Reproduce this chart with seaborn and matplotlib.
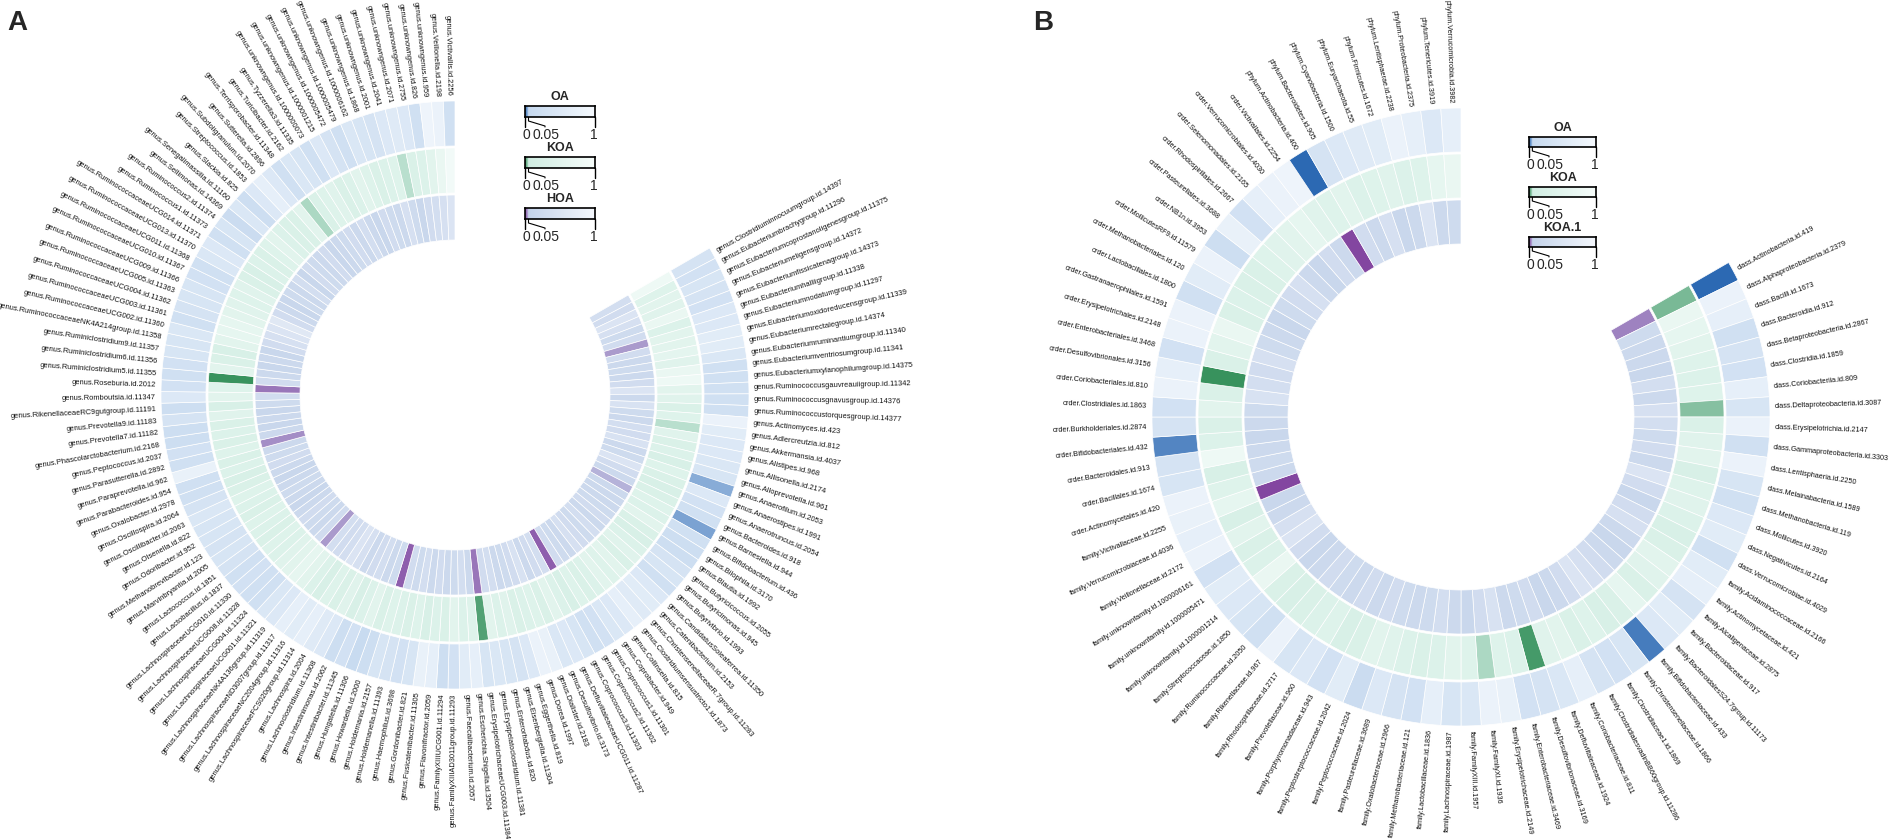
import numpy as np
import matplotlib
matplotlib.use('Agg')
import matplotlib.pyplot as plt
from matplotlib.colors import LinearSegmentedColormap
import seaborn as sns

W, H = 1890, 839

# Panel A: genus level, clockwise from the upper right
labels_a = [
    "genus.Clostridiuminnocuumgroup.id.14397", "genus.Eubacteriumbrachygroup.id.11296",
    "genus.Eubacteriumcoprostanoligenesgroup.id.11375", "genus.Eubacteriumeligensgroup.id.14372",
    "genus.Eubacteriumfissicatenagroup.id.14373", "genus.Eubacteriumhalliigroup.id.11338",
    "genus.Eubacteriumnodatumgroup.id.11297", "genus.Eubacteriumoxidoreducensgroup.id.11339",
    "genus.Eubacteriumrectalegroup.id.14374", "genus.Eubacteriumruminantiumgroup.id.11340",
    "genus.Eubacteriumventriosumgroup.id.11341", "genus.Eubacteriumxylanophilumgroup.id.14375",
    "genus.Ruminococcusgauvreauiigroup.id.11342", "genus.Ruminococcusgnavusgroup.id.14376",
    "genus.Ruminococcustorquesgroup.id.14377", "genus.Actinomyces.id.423",
    "genus.Adlercreutzia.id.812", "genus.Akkermansia.id.4037", "genus.Alistipes.id.968",
    "genus.Allisonella.id.2174", "genus.Alloprevotella.id.961", "genus.Anaerofilum.id.2053",
    "genus.Anaerostipes.id.1991", "genus.Anaerotruncus.id.2054", "genus.Bacteroides.id.918",
    "genus.Barnesiella.id.944", "genus.Bifidobacterium.id.436", "genus.Bilophila.id.3170",
    "genus.Blautia.id.1992", "genus.Butyricicoccus.id.2055", "genus.Butyricimonas.id.945",
    "genus.Butyrivibrio.id.1993", "genus.CandidatusSoleaferrea.id.11350",
    "genus.Catenibacterium.id.2153", "genus.ChristensenellaceaeR.7group.id.11283",
    "genus.Clostridiumsensustricto1.id.1873", "genus.Collinsella.id.815",
    "genus.Coprobacter.id.949", "genus.Coprococcus1.id.11301", "genus.Coprococcus2.id.11302",
    "genus.Coprococcus3.id.11303", "genus.DefluviitaleaceaeUCG011.id.11287",
    "genus.Desulfovibrio.id.3173", "genus.Dialister.id.2183", "genus.Dorea.id.1997",
    "genus.Eggerthella.id.819", "genus.Eisenbergiella.id.11304", "genus.Enterorhabdus.id.820",
    "genus.Erysipelatoclostridium.id.11381", "genus.ErysipelotrichaceaeUCG003.id.11384",
    "genus.Escherichia.Shigella.id.3504", "genus.Faecalibacterium.id.2057",
    "genus.FamilyXIIIAD3011group.id.11293", "genus.FamilyXIIIUCG001.id.11294",
    "genus.Flavonifractor.id.2059", "genus.Fusicatenibacter.id.11305",
    "genus.Gordonibacter.id.821", "genus.Haemophilus.id.3698", "genus.Holdemanella.id.11393",
    "genus.Holdemania.id.2157", "genus.Howardella.id.2000", "genus.Hungatella.id.11306",
    "genus.Intestinibacter.id.11345", "genus.Intestinimonas.id.2062",
    "genus.Lachnoclostridium.id.11308", "genus.Lachnospira.id.2004",
    "genus.LachnospiraceaeFCS020group.id.11314", "genus.LachnospiraceaeNC2004group.id.11316",
    "genus.LachnospiraceaeND3007group.id.11317", "genus.LachnospiraceaeNK4A136group.id.11319",
    "genus.LachnospiraceaeUCG001.id.11321", "genus.LachnospiraceaeUCG004.id.11324",
    "genus.LachnospiraceaeUCG008.id.11328", "genus.LachnospiraceaeUCG010.id.11330",
    "genus.Lactobacillus.id.1837", "genus.Lactococcus.id.1851", "genus.Marvinbryantia.id.2005",
    "genus.Methanobrevibacter.id.123", "genus.Odoribacter.id.952", "genus.Olsenella.id.822",
    "genus.Oscillibacter.id.2063", "genus.Oscillospira.id.2064", "genus.Oxalobacter.id.2978",
    "genus.Parabacteroides.id.954", "genus.Paraprevotella.id.962",
    "genus.Parasutterella.id.2892", "genus.Peptococcus.id.2037",
    "genus.Phascolarctobacterium.id.2168", "genus.Prevotella7.id.11182",
    "genus.Prevotella9.id.11183", "genus.RikenellaceaeRC9gutgroup.id.11191",
    "genus.Romboutsia.id.11347", "genus.Roseburia.id.2012", "genus.Ruminiclostridium5.id.11355",
    "genus.Ruminiclostridium6.id.11356", "genus.Ruminiclostridium9.id.11357",
    "genus.RuminococcaceaeNK4A214group.id.11358", "genus.RuminococcaceaeUCG002.id.11360",
    "genus.RuminococcaceaeUCG003.id.11361", "genus.RuminococcaceaeUCG004.id.11362",
    "genus.RuminococcaceaeUCG005.id.11363", "genus.RuminococcaceaeUCG009.id.11366",
    "genus.RuminococcaceaeUCG010.id.11367", "genus.RuminococcaceaeUCG011.id.11368",
    "genus.RuminococcaceaeUCG013.id.11370", "genus.RuminococcaceaeUCG014.id.11371",
    "genus.Ruminococcus1.id.11373", "genus.Ruminococcus2.id.11374", "genus.Sellimonas.id.14369",
    "genus.Senegalimassilia.id.11160", "genus.Slackia.id.825", "genus.Streptococcus.id.1853",
    "genus.Subdoligranulum.id.2070", "genus.Sutterella.id.2896",
    "genus.Terrisporobacter.id.11348", "genus.Turicibacter.id.2162",
    "genus.Tyzzerella3.id.11335", "genus.unknowngenus.id.1000000073",
    "genus.unknowngenus.id.1000001215", "genus.unknowngenus.id.1000005472",
    "genus.unknowngenus.id.1000005479", "genus.unknowngenus.id.1000006162",
    "genus.unknowngenus.id.1868", "genus.unknowngenus.id.2001", "genus.unknowngenus.id.2041",
    "genus.unknowngenus.id.2071", "genus.unknowngenus.id.2755", "genus.unknowngenus.id.826",
    "genus.unknowngenus.id.959", "genus.Veillonella.id.2198", "genus.Victivallis.id.2256",
]

oa_a = [0.35, 0.3, 0.4, 0.35, 0.3, 0.5, 0.5, 0.6, 0.6, 0.45,
        0.25, 0.25, 0.25, 0.25, 0.25, 0.8, 0.6, 0.5, 0.5, 0.45,
        0.4, 0.035, 0.5, 0.3, 0.25, 0.03, 0.25, 0.2, 0.2, 0.35,
        0.4, 0.25, 0.5, 0.6, 0.55, 0.7, 0.5, 0.45, 0.3, 0.25,
        0.4, 0.5, 0.45, 0.75, 0.8, 0.5, 0.35, 0.4, 0.45, 0.4,
        0.7, 0.6, 0.3, 0.2, 0.7, 0.75, 0.4, 0.3, 0.35, 0.4,
        0.2, 0.1, 0.3, 0.2, 0.5, 0.55, 0.7, 0.6, 0.7, 0.5,
        0.45, 0.25, 0.25, 0.3, 0.25, 0.35, 0.4, 0.35, 0.4, 0.4,
        0.45, 0.35, 0.25, 0.25, 0.75, 0.25, 0.3, 0.2, 0.2, 0.35,
        0.2, 0.5, 0.3, 0.25, 0.3, 0.4, 0.4, 0.45, 0.25, 0.35,
        0.4, 0.4, 0.3, 0.25, 0.45, 0.5, 0.25, 0.4, 0.15, 0.45,
        0.2, 0.5, 0.7, 0.5, 0.25, 0.45, 0.4, 0.25, 0.5, 0.35,
        0.25, 0.45, 0.4, 0.35, 0.5, 0.55, 0.5, 0.25, 0.85, 0.8,
        0.25]

koa_a = [0.8, 0.4, 0.5, 0.45, 0.7, 0.35, 0.5, 0.5, 0.55, 0.45,
         0.7, 0.8, 0.5, 0.45, 0.3, 0.4, 0.045, 0.45, 0.3, 0.35,
         0.25, 0.4, 0.3, 0.25, 0.3, 0.4, 0.35, 0.5, 0.3, 0.25,
         0.35, 0.45, 0.3, 0.5, 0.4, 0.5, 0.35, 0.3, 0.4, 0.25,
         0.35, 0.5, 0.3, 0.4, 0.35, 0.3, 0.45, 0.35, 0.5, 0.012,
         0.4, 0.35, 0.5, 0.3, 0.35, 0.25, 0.4, 0.3, 0.35, 0.4,
         0.3, 0.5, 0.35, 0.25, 0.45, 0.3, 0.4, 0.25, 0.35, 0.5,
         0.6, 0.5, 0.45, 0.35, 0.4, 0.3, 0.35, 0.4, 0.3, 0.35,
         0.4, 0.3, 0.25, 0.35, 0.3, 0.4, 0.3, 0.35, 0.3, 0.45,
         0.25, 0.5, 0.4, 0.005, 0.5, 0.3, 0.25, 0.5, 0.6, 0.6,
         0.5, 0.45, 0.4, 0.45, 0.3, 0.25, 0.35, 0.3, 0.4, 0.5,
         0.35, 0.3, 0.3, 0.5, 0.04, 0.3, 0.4, 0.45, 0.3, 0.35,
         0.5, 0.4, 0.3, 0.35, 0.4, 0.045, 0.3, 0.35, 0.5, 0.7,
         0.9]

hoa_a = [0.35, 0.3, 0.5, 0.4, 0.25, 0.3, 0.035, 0.3, 0.2, 0.25,
         0.2, 0.3, 0.5, 0.2, 0.45, 0.25, 0.2, 0.35, 0.3, 0.45,
         0.2, 0.25, 0.5, 0.3, 0.2, 0.04, 0.2, 0.2, 0.2, 0.25,
         0.3, 0.2, 0.35, 0.25, 0.3, 0.4, 0.2, 0.25, 0.3, 0.012,
         0.35, 0.3, 0.2, 0.45, 0.3, 0.25, 0.2, 0.35, 0.3, 0.02,
         0.2, 0.35, 0.25, 0.2, 0.3, 0.2, 0.35, 0.25, 0.3, 0.015,
         0.25, 0.2, 0.35, 0.3, 0.2, 0.4, 0.5, 0.35, 0.3, 0.35,
         0.035, 0.3, 0.2, 0.25, 0.3, 0.2, 0.15, 0.2, 0.25, 0.2,
         0.15, 0.2, 0.3, 0.25, 0.2, 0.03, 0.2, 0.15, 0.2, 0.15,
         0.25, 0.3, 0.02, 0.3, 0.2, 0.15, 0.2, 0.15, 0.3, 0.4,
         0.5, 0.6, 0.3, 0.2, 0.15, 0.25, 0.2, 0.35, 0.15, 0.3,
         0.25, 0.2, 0.3, 0.15, 0.2, 0.25, 0.3, 0.2, 0.35, 0.2,
         0.15, 0.3, 0.25, 0.2, 0.4, 0.25, 0.15, 0.3, 0.35, 0.4,
         0.5]

# Panel B: class / family / order / phylum level
labels_b = [
    "class.Actinobacteria.id.419", "class.Alphaproteobacteria.id.2379", "class.Bacilli.id.1673",
    "class.Bacteroidia.id.912", "class.Betaproteobacteria.id.2867", "class.Clostridia.id.1859",
    "class.Coriobacteriia.id.809", "class.Deltaproteobacteria.id.3087",
    "class.Erysipelotrichia.id.2147", "class.Gammaproteobacteria.id.3303",
    "class.Lentisphaeria.id.2250", "class.Melainabacteria.id.1589",
    "class.Methanobacteria.id.119", "class.Mollicutes.id.3920", "class.Negativicutes.id.2164",
    "class.Verrucomicrobiae.id.4029", "family.Acidaminococcaceae.id.2166",
    "family.Actinomycetaceae.id.421", "family.Alcaligenaceae.id.2875",
    "family.Bacteroidaceae.id.917", "family.BacteroidalesS24.7group.id.11173",
    "family.Bifidobacteriaceae.id.433", "family.Christensenellaceae.id.1866",
    "family.Clostridiaceae1.id.1869", "family.ClostridialesvadinBB60group.id.11286",
    "family.Coriobacteriaceae.id.811", "family.Defluviitaleaceae.id.1924",
    "family.Desulfovibrionaceae.id.3169", "family.Enterobacteriaceae.id.3469",
    "family.Erysipelotrichaceae.id.2149", "family.FamilyXI.id.1936", "family.FamilyXIII.id.1957",
    "family.Lachnospiraceae.id.1987", "family.Lactobacillaceae.id.1836",
    "family.Methanobacteriaceae.id.121", "family.Oxalobacteraceae.id.2966",
    "family.Pasteurellaceae.id.3689", "family.Peptococcaceae.id.2024",
    "family.Peptostreptococcaceae.id.2042", "family.Porphyromonadaceae.id.943",
    "family.Prevotellaceae.id.960", "family.Rhodospirillaceae.id.2717",
    "family.Rikenellaceae.id.967", "family.Ruminococcaceae.id.2050",
    "family.Streptococcaceae.id.1850", "family.unknownfamily.id.1000001214",
    "family.unknownfamily.id.1000005471", "family.unknownfamily.id.1000006161",
    "family.Veillonellaceae.id.2172", "family.Verrucomicrobiaceae.id.4036",
    "family.Victivallaceae.id.2255", "order.Actinomycetales.id.420", "order.Bacillales.id.1674",
    "order.Bacteroidales.id.913", "order.Bifidobacteriales.id.432",
    "order.Burkholderiales.id.2874", "order.Clostridiales.id.1863",
    "order.Coriobacteriales.id.810", "order.Desulfovibrionales.id.3156",
    "order.Enterobacteriales.id.3468", "order.Erysipelotrichales.id.2148",
    "order.Gastranaerophilales.id.1591", "order.Lactobacillales.id.1800",
    "order.Methanobacteriales.id.120", "order.MollicutesRF9.id.11579", "order.NB1n.id.3953",
    "order.Pasteurellales.id.3688", "order.Rhodospirillales.id.2667",
    "order.Selenomonadales.id.2165", "order.Verrucomicrobiales.id.4030",
    "order.Victivallales.id.2254", "phylum.Actinobacteria.id.400",
    "phylum.Bacteroidetes.id.905", "phylum.Cyanobacteria.id.1500",
    "phylum.Euryarchaeota.id.55", "phylum.Firmicutes.id.1672", "phylum.Lentisphaerae.id.2238",
    "phylum.Proteobacteria.id.2375", "phylum.Tenericutes.id.3919",
    "phylum.Verrucomicrobia.id.3982",
]

oa_b = [0.004, 0.8, 0.7, 0.25, 0.35, 0.3, 0.7, 0.4, 0.8, 0.25,
        0.8, 0.4, 0.25, 0.5, 0.6, 0.25, 0.6, 0.7, 0.35, 0.6,
        0.5, 0.012, 0.4, 0.3, 0.35, 0.7, 0.45, 0.35, 0.3, 0.75,
        0.8, 0.45, 0.4, 0.7, 0.3, 0.35, 0.5, 0.15, 0.6, 0.3,
        0.5, 0.4, 0.8, 0.25, 0.4, 0.5, 0.6, 0.3, 0.8, 0.7,
        0.75, 0.8, 0.4, 0.35, 0.018, 0.35, 0.3, 0.8, 0.7, 0.3,
        0.8, 0.8, 0.25, 0.6, 0.8, 0.2, 0.75, 0.3, 0.7, 0.8,
        0.85, 0.006, 0.35, 0.5, 0.55, 0.6, 0.8, 0.7, 0.5, 0.7]

koa_b = [0.025, 0.7, 0.6, 0.5, 0.4, 0.35, 0.4, 0.03, 0.3, 0.45,
         0.5, 0.25, 0.4, 0.45, 0.35, 0.25, 0.3, 0.5, 0.45, 0.3,
         0.6, 0.3, 0.25, 0.4, 0.3, 0.5, 0.45, 0.008, 0.35, 0.4,
         0.04, 0.4, 0.5, 0.35, 0.3, 0.35, 0.45, 0.5, 0.3, 0.25,
         0.4, 0.35, 0.3, 0.25, 0.3, 0.7, 0.35, 0.3, 0.5, 0.25,
         0.6, 0.4, 0.25, 0.8, 0.35, 0.3, 0.5, 0.3, 0.006, 0.3,
         0.5, 0.7, 0.3, 0.35, 0.3, 0.3, 0.4, 0.45, 0.5, 0.6,
         0.45, 0.4, 0.5, 0.35, 0.4, 0.45, 0.35, 0.4, 0.6, 0.7]

koa1_b = [0.025, 0.25, 0.2, 0.2, 0.15, 0.35, 0.2, 0.4, 0.35, 0.25,
          0.3, 0.2, 0.5, 0.3, 0.15, 0.3, 0.4, 0.2, 0.15, 0.2,
          0.3, 0.4, 0.5, 0.3, 0.2, 0.15, 0.3, 0.25, 0.2, 0.45,
          0.3, 0.15, 0.2, 0.35, 0.25, 0.2, 0.25, 0.3, 0.2, 0.3,
          0.2, 0.25, 0.3, 0.2, 0.15, 0.3, 0.5, 0.4, 0.2, 0.15,
          0.005, 0.2, 0.25, 0.2, 0.15, 0.2, 0.25, 0.45, 0.35, 0.3,
          0.4, 0.25, 0.2, 0.15, 0.25, 0.3, 0.4, 0.2, 0.15, 0.3,
          0.2, 0.006, 0.3, 0.2, 0.4, 0.15, 0.2, 0.5, 0.2, 0.25]

sns.set_theme(style='white')
plt.rcParams['font.family'] = ['Liberation Sans', 'DejaVu Sans']


def make_cmap(dark, mid, light):
    # colour break at 0.05, as in the legends
    return LinearSegmentedColormap.from_list('p', [(0, dark), (0.05, mid), (1, light)])


cmap_oa = make_cmap('#1f5fae', '#c6d9ef', '#f5f9fd')
cmap_koa = make_cmap('#2b8a52', '#d0ede2', '#f6fcfa')
cmap_hoa = make_cmap('#7d3a9a', '#c4d3ea', '#f4f7fc')

fig = plt.figure(figsize=(W / 100, H / 100), dpi=100)


def px_box(x0, y0, w, h):
    return [x0 / W, 1 - (y0 + h) / H, w / W, h / H]


def circ_heatmap(cx, cy, r_out, ring_w, labels, rings, cmaps, fs, start=30, span=300):
    ax = fig.add_axes(px_box(cx - r_out, cy - r_out, 2 * r_out, 2 * r_out), projection='polar')
    ax.set_theta_zero_location('E')
    ax.set_theta_direction(1)
    ax.set_ylim(0, r_out)
    ax.set_axis_off()
    n = len(labels)
    step = span / n
    ang = start - (np.arange(n) + 0.5) * step
    th = np.deg2rad(ang)
    for j, (vals, cmap) in enumerate(zip(rings, cmaps)):
        bottom = r_out - (j + 1) * ring_w + 1
        ax.bar(th, ring_w - 2, width=np.deg2rad(step), bottom=bottom,
               color=cmap(np.asarray(vals)), edgecolor='white', linewidth=0.5)
    for a, t, lab in zip(ang, th, labels):
        a = (a + 180) % 360 - 180
        if -90 <= a <= 90:
            rot, ha = a, 'left'
        else:
            rot, ha = (a + 180 if a < 0 else a - 180), 'right'
        ax.text(t, r_out + 4, lab, rotation=rot, rotation_mode='anchor',
                ha=ha, va='center', fontsize=fs, color='#111111', clip_on=False)
    return ax


ov = fig.add_axes([0, 0, 1, 1])
ov.set_xlim(0, W)
ov.set_ylim(H, 0)
ov.axis('off')


def legend_bar(x0, y0, w, h, cmap, title):
    cax = fig.add_axes(px_box(x0, y0, w, h))
    grad = np.linspace(0, 1, 400)[None, :]
    sns.heatmap(grad, cmap=cmap, vmin=0, vmax=1, cbar=False, ax=cax,
                xticklabels=False, yticklabels=False)
    for s in cax.spines.values():
        s.set_visible(True)
        s.set_color('black')
        s.set_linewidth(1.2)
    ov.text(x0 + w / 2, y0 - 9, title, ha='center', va='center', fontsize=9, fontweight='bold')
    yb = y0 + h
    x05 = x0 + 0.05 * w
    ov.plot([x0, x0], [yb, yb + 10], color='black', lw=1.0)
    ov.plot([x0 + w, x0 + w], [yb, yb + 10], color='black', lw=1.0)
    ov.plot([x05, x05, x0 + 20, x0 + 20], [yb, yb + 4, yb + 9, yb + 10], color='black', lw=0.8)
    ov.text(x0 + 1, yb + 18, '0', ha='center', va='center', fontsize=10)
    ov.text(x0 + 21, yb + 18, '0.05', ha='center', va='center', fontsize=10)
    ov.text(x0 + w - 1, yb + 18, '1', ha='center', va='center', fontsize=10)


circ_heatmap(455, 395, 295, 47, labels_a, [oa_a, koa_a, hoa_a],
             [cmap_oa, cmap_koa, cmap_hoa], fs=5.4)
circ_heatmap(1461, 417, 310, 46, labels_b, [oa_b, koa_b, koa1_b],
             [cmap_oa, cmap_koa, cmap_hoa], fs=5.2)

for (y0, cmap, title) in [(106, cmap_oa, 'OA'), (157, cmap_koa, 'KOA'), (208, cmap_hoa, 'HOA')]:
    legend_bar(525, y0, 70, 11, cmap, title)
for (y0, cmap, title) in [(137, cmap_oa, 'OA'), (187, cmap_koa, 'KOA'), (237, cmap_hoa, 'KOA.1')]:
    legend_bar(1529, y0, 67, 10, cmap, title)

ov.text(7, 23, 'A', fontsize=20, fontweight='bold', va='center', ha='left')
ov.text(1033, 23, 'B', fontsize=20, fontweight='bold', va='center', ha='left')

fig.savefig('out.png', dpi=100)
